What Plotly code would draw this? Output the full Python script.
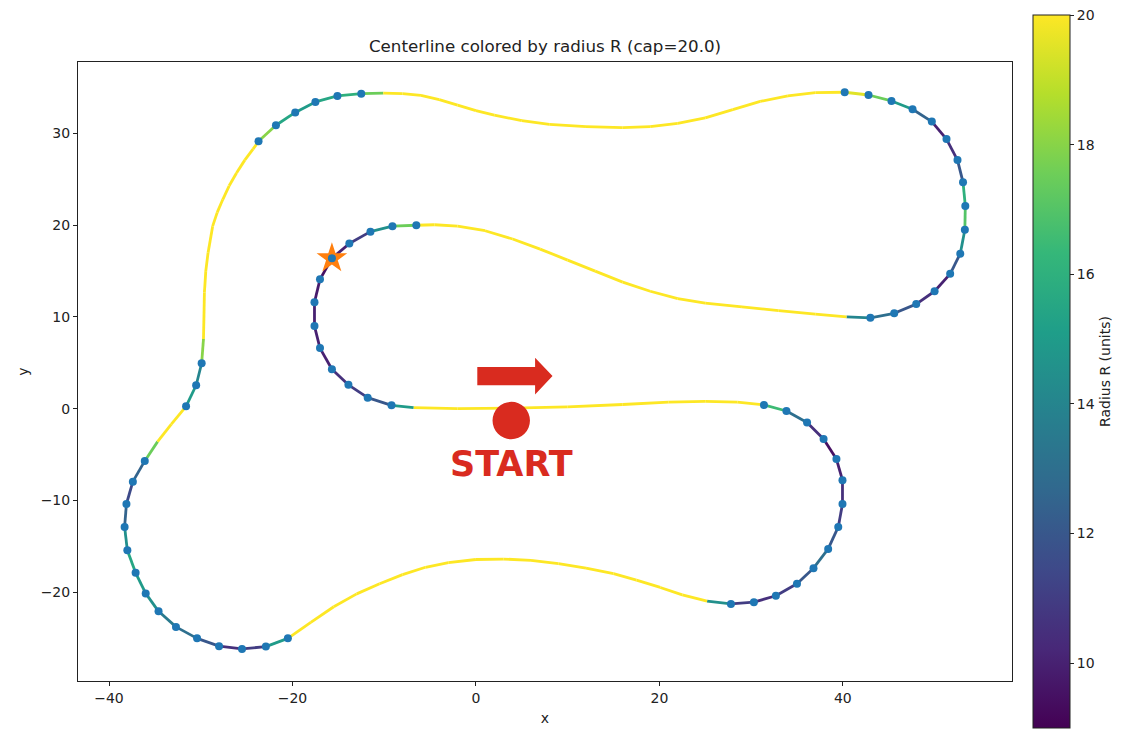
import plotly.graph_objects as go
from plotly.colors import sample_colorscale

# ---------------- data ----------------
# centerline points, in driving order (closed loop)
path_x = [-6.8, -2, 4, 10, 16, 21, 25, 28.5, 31.4,
          33.85, 36.1, 37.9, 39.3, 39.96, 39.96, 39.5, 38.4, 36.8, 35.0, 32.7, 30.3, 27.8, 25.2,
          22.5, 20.1, 17.5, 15, 12, 9, 6, 3, 0, -3, -5.5, -8, -10.5, -13, -15.5, -18, -20.5,
          -22.9, -25.5, -28.0, -30.4, -32.7, -34.6, -36.0, -37.1, -38.0, -38.3, -38.1, -37.4, -36.1,
          -34.7, -33.2, -31.6, -30.5, -29.9, -29.7,
          -29.65, -29.6, -29.45, -29.2, -28.7, -28.2, -27.6, -26.9, -26.1, -25.2, -24.3,
          -23.7, -21.8, -19.7, -17.5, -15.1, -12.5, -10.1,
          -8, -6, -4, -2, 0, 2, 5, 8, 12, 16, 19, 22, 25, 28, 31, 34, 37, 40.2,
          42.8, 45.3, 47.6, 49.7, 51.3, 52.5, 53.1, 53.35, 53.3, 52.8, 51.7, 50.0, 48.0, 45.6, 43.0, 40.4,
          37, 33, 29, 25, 22, 19, 16, 13, 10, 7, 4, 1, -2, -4.5, -6.5,
          -9.1, -11.5, -13.8, -15.7, -17.0, -17.6, -17.6, -17.0, -15.7, -13.9, -11.8, -9.2, -6.8]
path_y = [0.1, 0.0, 0.05, 0.2, 0.45, 0.7, 0.8, 0.7, 0.4,
          -0.26, -1.5, -3.3, -5.5, -7.8, -10.4, -12.9, -15.3, -17.4, -19.1, -20.4, -21.1, -21.3, -21.0,
          -20.3, -19.5, -18.7, -18.0, -17.4, -16.9, -16.55, -16.4, -16.45, -16.8, -17.3, -18.1, -19.1,
          -20.2, -21.6, -23.3, -25.05,
          -25.95, -26.2, -25.9, -25.05, -23.8, -22.1, -20.15, -17.9, -15.45, -12.9, -10.4, -7.96, -5.7,
          -3.6, -1.7, 0.25, 2.55, 4.95, 7.6,
          10.0, 12.65, 15.0, 17.0, 19.9, 21.4, 22.8, 24.3, 25.7, 27.1, 28.3,
          29.15, 30.9, 32.3, 33.45, 34.1, 34.35, 34.4,
          34.35, 34.15, 33.7, 33.1, 32.5, 32.0, 31.4, 31.0, 30.75, 30.65, 30.75, 31.1, 31.7, 32.6,
          33.5, 34.1, 34.45, 34.5,
          34.2, 33.55, 32.65, 31.3, 29.4, 27.1, 24.7, 22.1, 19.5, 16.9, 14.7, 12.8, 11.4, 10.4, 9.9, 10.0,
          10.3, 10.7, 11.1, 11.5, 12.0, 12.8, 13.8, 15.0, 16.2, 17.4, 18.5, 19.4, 19.9, 20.05, 20.0,
          19.9, 19.3, 18.0, 16.4, 14.1, 11.6, 9.0, 6.6, 4.3, 2.6, 1.2, 0.36, 0.1]
# radius R of the segment that starts at each point (capped at 20)
path_R = [20, 20, 20, 20, 20, 20, 20, 20, 16.5,
          13, 10.5, 9.5, 10, 10.5, 11, 12, 13, 12, 11, 10.5, 11, 14.5, 20,
          20, 20, 20, 20, 20, 20, 20, 20, 20, 20, 20, 20, 20, 20, 20, 20, 15,
          11, 10.5, 12, 13, 13.5, 14.5, 15, 15.5, 14.5, 12.5, 11.5, 12.5, 17.5,
          20, 20, 15, 14, 18, 20,
          20, 20, 20, 20, 20, 20, 20, 20, 20, 20, 20,
          18, 15.5, 15, 15.5, 16, 17.5, 20,
          20, 20, 20, 20, 20, 20, 20, 20, 20, 20, 20, 20, 20, 20, 20, 20, 20, 19.5,
          17.5, 15, 12.5, 10, 10.5, 12, 16, 17, 14.5, 12, 10, 10.5, 12, 13, 14, 20,
          20, 20, 20, 20, 20, 20, 20, 20, 20, 20, 20, 20, 20, 20, 17.5,
          14.5, 11, 10, 9.5, 9.8, 10, 10, 10, 10.5, 11, 12, 15, None]
# 1 = sampled point shown with a dot
path_dot = [0, 0, 0, 0, 0, 0, 0, 0, 1,
            1, 1, 1, 1, 1, 1, 1, 1, 1, 1, 1, 1, 1, 0,
            0, 0, 0, 0, 0, 0, 0, 0, 0, 0, 0, 0, 0, 0, 0, 0, 1,
            1, 1, 1, 1, 1, 1, 1, 1, 1, 1, 1, 1, 1,
            0, 0, 1, 1, 1, 0,
            0, 0, 0, 0, 0, 0, 0, 0, 0, 0, 0,
            1, 1, 1, 1, 1, 1, 0,
            0, 0, 0, 0, 0, 0, 0, 0, 0, 0, 0, 0, 0, 0, 0, 0, 0, 1,
            1, 1, 1, 1, 1, 1, 1, 1, 1, 1, 1, 1, 1, 1, 1, 0,
            0, 0, 0, 0, 0, 0, 0, 0, 0, 0, 0, 0, 0, 0, 1,
            1, 1, 1, 1, 1, 1, 1, 1, 1, 1, 1, 1, 0]

star_x, star_y = [-15.7], [16.4]
start_x, start_y = 3.85, -1.3
start_label = "START"
R_min, R_cap = 9.0, 20.0
cbar_ticks = [10, 12, 14, 16, 18, 20]

title_text = "Centerline colored by radius R (cap=20.0)"

# ---------------- figure ----------------
fig = go.Figure()

def rcolor(r):
    t = (r - R_min) / (R_cap - R_min)
    t = min(max(t, 0.0), 1.0)
    return sample_colorscale("Viridis", [t])[0]

for i in range(len(path_x) - 1):
    fig.add_trace(go.Scatter(
        x=[path_x[i], path_x[i + 1]], y=[path_y[i], path_y[i + 1]],
        mode="lines", line=dict(color=rcolor(path_R[i]), width=2.8),
        showlegend=False, hoverinfo="skip"))

fig.add_trace(go.Scatter(
    x=star_x, y=star_y, mode="markers",
    marker=dict(symbol="star", size=23, color="#ff7f0e", line=dict(width=0)),
    showlegend=False))

dx = [x for x, d in zip(path_x, path_dot) if d]
dy = [y for y, d in zip(path_y, path_dot) if d]
fig.add_trace(go.Scatter(
    x=dx, y=dy, mode="markers",
    marker=dict(size=8, color="#1f77b4", line=dict(width=0)),
    showlegend=False))

# colorbar carrier
fig.add_trace(go.Scatter(
    x=[None, None], y=[None, None], mode="markers",
    marker=dict(color=[R_min, R_cap], colorscale="Viridis", cmin=R_min, cmax=R_cap,
                showscale=True,
                colorbar=dict(
                    x=1.0225, xanchor="left", xref="paper", xpad=0, ypad=0,
                    y=0.5, yanchor="middle",
                    lenmode="pixels", len=713, thickness=37,
                    outlinewidth=1, outlinecolor="#222",
                    tickvals=cbar_ticks, ticks="outside", ticklen=4, tickcolor="#222",
                    tickfont=dict(family="DejaVu Sans", size=14, color="#222"),
                    title=dict(text="Radius R (units)", side="right",
                               font=dict(family="DejaVu Sans", size=14, color="#222")),
                )),
    showlegend=False, hoverinfo="skip"))

red = "#d92b1f"
# arrow (filled polygon)
ax0, ax1, ax2 = start_x - 3.7, start_x + 2.6, start_x + 4.5
ay = start_y + 4.85
fig.add_shape(type="path",
              path=(f"M {ax0},{ay-1.0} L {ax1},{ay-1.0} L {ax1},{ay-2.0} L {ax2},{ay} "
                    f"L {ax1},{ay+2.0} L {ax1},{ay+1.0} L {ax0},{ay+1.0} Z"),
              xref="x", yref="y", fillcolor=red, line=dict(width=0), layer="above")
fig.add_shape(type="circle", xref="x", yref="y",
              x0=start_x - 2.04, x1=start_x + 2.04, y0=start_y - 2.04, y1=start_y + 2.04,
              fillcolor=red, line=dict(width=0), layer="above")
fig.add_annotation(x=start_x + 0.0, y=start_y - 4.7, xref="x", yref="y",
                   text=f"<b>{start_label}</b>", showarrow=False,
                   font=dict(family="DejaVu Sans", size=35, color=red),
                   xanchor="center", yanchor="middle")

axis_common = dict(showgrid=False, zeroline=False, showline=True, linecolor="#222",
                   linewidth=1, mirror=True, ticks="outside", ticklen=4, tickcolor="#222",
                   tickfont=dict(family="DejaVu Sans", size=14, color="#222"))

fig.update_layout(
    width=1122, height=730,
    margin=dict(l=78, r=110, t=62, b=49, autoexpand=False),
    plot_bgcolor="white", paper_bgcolor="white",
    title=dict(text=title_text, x=0.5, xref="paper", y=1 - 46 / 730, yref="container",
               xanchor="center", yanchor="middle",
               font=dict(family="DejaVu Sans", size=16.7, color="#222")),
    xaxis=dict(range=[-43.38, 58.44], tickvals=[-40, -20, 0, 20, 40],
               ticktext=["\u221240", "\u221220", "0", "20", "40"],
               title=dict(text="x", standoff=8, font=dict(family="DejaVu Sans", size=14, color="#222")),
               **axis_common),
    yaxis=dict(range=[-29.7, 37.8], tickvals=[-20, -10, 0, 10, 20, 30],
               ticktext=["\u221220", "\u221210", "0", "10", "20", "30"],
               title=dict(text="y", standoff=8, font=dict(family="DejaVu Sans", size=14, color="#222")),
               **axis_common),
)

fig.write_html("out.html", config={"displayModeBar": False},
               post_script="document.body.style.margin='0px';document.body.style.overflow='hidden';")
